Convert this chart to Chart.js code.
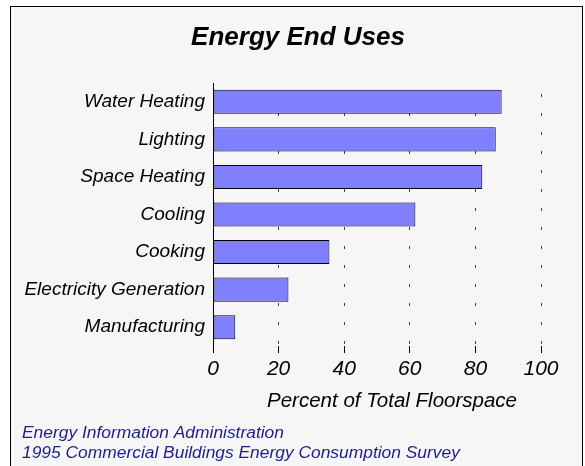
<!DOCTYPE html>
<html>
<head>
<meta charset="utf-8">
<script src="https://cdn.jsdelivr.net/npm/chart.js@4.4.1/dist/chart.umd.min.js"></script>
<style>
  body { margin: 0; background: #ffffff; }
  #marco {
    position: absolute; left: 10px; top: 6px;
    width: 571px; height: 470px;
    border: 1px solid #000; border-bottom: none;
    background: #f6f6f6;
  }
  canvas { display: block; }
</style>
</head>
<body>
<div id="marco">
  <canvas id="usosChart" width="571" height="459"></canvas>
</div>
<script>
// categorias (eje Y)
const categorias = [
  "Water Heating",
  "Lighting",
  "Space Heating",
  "Cooling",
  "Cooking",
  "Electricity Generation",
  "Manufacturing"
];

// porcentaje del area total
const porcentajes = [88.0, 86.2, 82.1, 61.7, 35.5, 23.0, 6.8];

// marcas del eje X
const marcasX = [0, 20, 40, 60, 80, 100];

const titulo = "Energy End Uses";
const tituloEje = "Percent of Total Floorspace";
const fuente = [
  "Energy Information Administration",
  "1995 Commercial Buildings Energy Consumption Survey"
];

const familia = "'Liberation Sans', Arial, Helvetica, sans-serif";

// textos dibujados sobre el canvas
const textosPlugin = {
  id: "textos",
  afterDraw(chart) {
    const ctx = chart.ctx;
    ctx.save();
    ctx.textBaseline = "middle";

    ctx.fillStyle = "#000";
    ctx.textAlign = "center";
    ctx.font = "italic bold 26px " + familia;
    ctx.fillText(titulo, 287, 31);

    ctx.font = "italic 20.5px " + familia;
    ctx.fillText(tituloEje, 381, 394);

    ctx.fillStyle = "#1e1e8c";
    ctx.textAlign = "left";
    ctx.font = "italic 17.4px " + familia;
    ctx.fillText(fuente[0], 11, 426);
    ctx.fillText(fuente[1], 11, 446);
    ctx.restore();
  }
};

const ctx = document.getElementById("usosChart").getContext("2d");

new Chart(ctx, {
  type: "bar",
  data: {
    labels: categorias,
    datasets: [{
      data: porcentajes,
      backgroundColor: "#8080ff",
      borderColor: "#000000",
      borderWidth: 1,
      borderSkipped: false,
      barPercentage: 0.8,
      categoryPercentage: 0.8
    }]
  },
  options: {
    indexAxis: "y",
    responsive: false,
    animation: false,
    layout: {
      padding: { left: 0, right: 41, top: 76, bottom: 0 }
    },
    plugins: {
      legend: { display: false },
      title: { display: false },
      tooltip: { enabled: false }
    },
    scales: {
      x: {
        type: "linear",
        min: 0,
        max: 100,
        afterBuildTicks: scale => {
          scale.ticks = marcasX.map(v => ({ value: v }));
        },
        afterFit: scale => { scale.height = 120; },
        grid: {
          color: ctx => ctx.tick && ctx.tick.value === 0 ? "rgba(0,0,0,0)" : "#444",
          lineWidth: 1,
          drawTicks: true,
          tickLength: 7,
          tickColor: "#000",
          tickWidth: 1
        },
        border: {
          display: false,
          dash: [3, 16],
          dashOffset: 8
        },
        ticks: {
          color: "#000",
          padding: 4,
          maxRotation: 0,
          font: { family: familia, size: 21, style: "italic" }
        }
      },
      y: {
        afterFit: scale => { scale.width = 202; },
        grid: { display: false, drawTicks: false },
        border: { display: true, color: "#000", width: 1 },
        ticks: {
          color: "#000",
          padding: 8,
          font: { family: familia, size: 19, style: "italic" }
        }
      }
    }
  },
  plugins: [textosPlugin]
});
</script>
</body>
</html>
